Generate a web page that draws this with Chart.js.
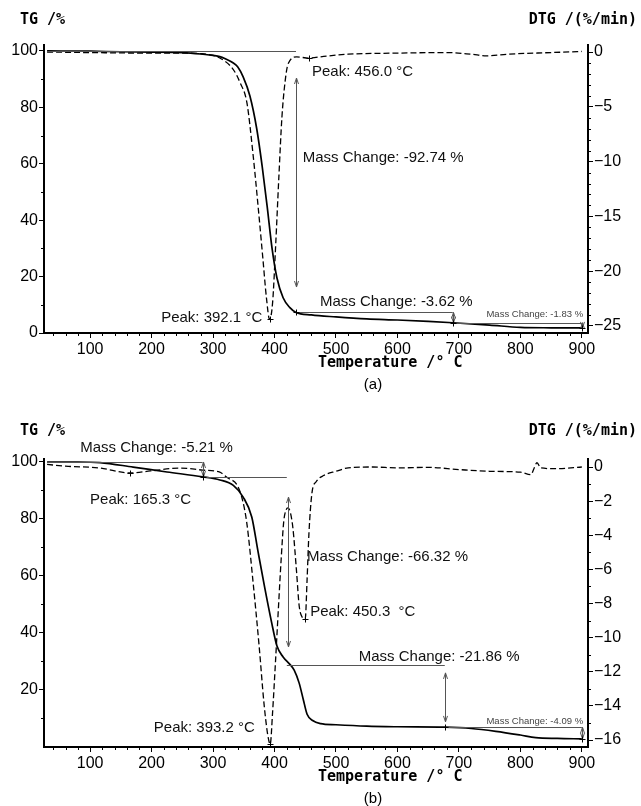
<!DOCTYPE html>
<html>
<head>
<meta charset="utf-8">
<script src="https://cdn.jsdelivr.net/npm/chart.js@4.4.1/dist/chart.umd.min.js"></script>
<style>
  body { margin: 0; background: #fff; }
  canvas { position: absolute; left: 0; }
</style>
</head>
<body>
<canvas id="chartA" width="641" height="400" style="top:0"></canvas>
<canvas id="chartB" width="641" height="406" style="top:400px"></canvas>
<script>
// tick labels
const tempTicks = [100, 200, 300, 400, 500, 600, 700, 800, 900];
const tgTicksA = [0, 20, 40, 60, 80, 100];
const tgTicksB = [20, 40, 60, 80, 100];
const dtgTicksA = [0, -5, -10, -15, -20, -25];
const dtgTicksB = [0, -2, -4, -6, -8, -10, -12, -14, -16];

// (a) TG curve, % vs °C
const tgTempA = [30, 100, 150, 200, 250, 280, 300, 311, 320, 333, 340, 349, 360, 371, 380, 388, 396, 404, 414, 425, 435, 460, 500, 550, 600, 650, 690, 750, 800, 850, 900];
const tgA = [100, 99.9, 99.7, 99.6, 99.4, 98.9, 98.4, 98.0, 97.2, 95.7, 94.4, 90.8, 84.0, 72.5, 59.0, 45.0, 30.0, 19.5, 12.5, 9.0, 7.3, 6.4, 5.7, 5.0, 4.6, 4.1, 3.64, 2.8, 2.0, 1.85, 1.81];

// (a) DTG curve, %/min vs °C
const dtgTempA = [30, 100, 200, 250, 280, 311, 333, 344, 355, 365, 374, 381, 387, 392, 397, 402, 407, 412, 417, 422, 436, 456, 480, 520, 600, 680, 720, 745, 780, 850, 900];
const dtgA = [0, -0.05, -0.1, -0.1, -0.15, -0.55, -1.6, -2.8, -4.6, -9.3, -14.5, -18.8, -22.5, -24.4, -22.8, -17.5, -11.5, -6.0, -2.8, -1.1, -0.45, -0.55, -0.4, -0.2, -0.1, -0.05, -0.2, -0.35, -0.2, -0.05, 0.05];

// (b) TG curve
const tgTempB = [30, 80, 116, 170, 225, 283, 311, 333, 349, 363, 373, 384, 395, 404, 414, 425, 432, 440, 447, 453, 462, 475, 500, 550, 600, 677, 720, 760, 800, 825, 860, 900];
const tgB = [100, 100, 99.8, 98.2, 96.5, 94.8, 93.7, 91.8, 87.7, 80.7, 68.8, 56.0, 44.0, 35.4, 31.6, 29.0, 27.0, 22.5, 16.5, 11.5, 9.3, 8.2, 7.8, 7.3, 7.1, 6.94, 6.5, 5.5, 4.2, 3.3, 3.0, 2.85];

// (b) DTG curve
const dtgTempB = [30, 60, 116, 165, 198, 246, 283, 311, 323, 339, 347, 355, 365, 375, 383, 389, 393, 397, 401, 406, 411, 415, 419, 422, 426, 430, 436, 440, 445, 450, 453, 456, 461, 468, 480, 500, 520, 560, 600, 650, 700, 750, 800, 817, 822, 827, 833, 860, 900];
const dtgB = [0.15, 0.05, -0.06, -0.35, -0.23, -0.06, -0.18, -0.3, -0.62, -1.05, -1.8, -3.3, -6.7, -10.5, -13.9, -15.7, -16.25, -14.3, -11.8, -8.5, -5.3, -3.2, -2.5, -2.4, -2.7, -3.6, -6.2, -8.1, -8.8, -8.9, -6.6, -3.9, -1.5, -0.85, -0.5, -0.25, -0.05, 0, -0.05, -0.02, -0.15, -0.25, -0.3, -0.45, -0.1, 0.25, -0.05, -0.1, 0];

// thermal analysis marks: mass change steps and peaks (°C, % or %/min)
const notesA = [
  { type: "hline", x1: 30, x2: 435, y: 100 },
  { type: "arrow", x: 435, y1: 90.4, y2: 16.3 },
  { type: "hline", x1: 435, x2: 690, y: 7.3 },
  { type: "arrow", x: 690, y1: 7.3, y2: 3.64 },
  { type: "hline", x1: 690, x2: 900, y: 3.64 },
  { type: "arrow", x: 900, y1: 3.64, y2: 1.81 },
  { type: "plus", x: 435, y: 7.3 },
  { type: "plus", x: 690, y: 3.64 },
  { type: "plus", x: 900, y: 1.81 },
  { type: "plus", x: 456, y: -0.55, axis: "y2" },
  { type: "plus", x: 392.1, y: -24.4, axis: "y2" },
  { type: "text", x: 461, y: 92.6, text: "Peak: 456.0 °C" },
  { type: "text", x: 446, y: 62.1, text: "Mass Change: -92.74 %" },
  { type: "text", x: 380, y: 5.3, text: "Peak: 392.1 °C", align: "right" },
  { type: "text", x: 474, y: 11.0, text: "Mass Change: -3.62 %" },
  { type: "text", x: 902, y: 6.7, text: "Mass Change: -1.83 %", align: "right", small: true },
];

const notesB = [
  { type: "hline", x1: 30, x2: 283, y: 100 },
  { type: "arrow", x: 283, y1: 100, y2: 94.8 },
  { type: "hline", x1: 283, x2: 420, y: 94.8 },
  { type: "arrow", x: 422, y1: 87.7, y2: 35.1 },
  { type: "hline", x1: 420, x2: 677, y: 28.8 },
  { type: "arrow", x: 677, y1: 26, y2: 8.8 },
  { type: "hline", x1: 677, x2: 900, y: 6.94 },
  { type: "arrow", x: 900, y1: 6.94, y2: 2.85 },
  { type: "plus", x: 283, y: 94.8 },
  { type: "plus", x: 677, y: 6.94 },
  { type: "plus", x: 900, y: 2.85 },
  { type: "plus", x: 165.3, y: -0.35, axis: "y2" },
  { type: "plus", x: 393.2, y: -16.25, axis: "y2" },
  { type: "plus", x: 450.3, y: -8.9, axis: "y2" },
  { type: "text", x: 84, y: 104.9, text: "Mass Change: -5.21 %" },
  { type: "text", x: 100, y: 86.7, text: "Peak: 165.3 °C" },
  { type: "text", x: 453, y: 66.7, text: "Mass Change: -66.32 %" },
  { type: "text", x: 458, y: 47.4, text: "Peak: 450.3  °C" },
  { type: "text", x: 537, y: 31.6, text: "Mass Change: -21.86 %" },
  { type: "text", x: 902, y: 9.1, text: "Mass Change: -4.09 %", align: "right", small: true },
  { type: "text", x: 368, y: 6.7, text: "Peak: 393.2 °C", align: "right" },
];

const sansFont = '"Liberation Sans", Arial, sans-serif';
const monoFont = 'bold 15px "DejaVu Sans Mono", monospace';

function range(from, to, step) {
  const out = [];
  for (let v = from; v <= to + 1e-9; v += step) out.push(Math.round(v * 100) / 100);
  return out;
}

function drawArrow(ctx, x, ya, yb) {
  ctx.beginPath();
  ctx.moveTo(x, ya);
  ctx.lineTo(x, yb);
  ctx.moveTo(x - 2, ya + 6);
  ctx.lineTo(x, ya);
  ctx.lineTo(x + 2, ya + 6);
  ctx.moveTo(x - 2, yb - 6);
  ctx.lineTo(x, yb);
  ctx.lineTo(x + 2, yb - 6);
  ctx.stroke();
}

const extras = {
  id: "extras",
  afterDraw(chart, args, opts) {
    const { ctx, chartArea: area, scales } = chart;
    ctx.save();

    // minor ticks
    ctx.strokeStyle = "#000";
    ctx.lineWidth = 1;
    ctx.beginPath();
    range(40, 900, 20).forEach((v) => {
      if (v % 100 === 0) return;
      const p = Math.round(scales.x.getPixelForValue(v)) + 0.5;
      ctx.moveTo(p, area.bottom);
      ctx.lineTo(p, area.bottom + 3);
    });
    range(10, 90, 20).forEach((v) => {
      const p = Math.round(scales.y.getPixelForValue(v)) + 0.5;
      ctx.moveTo(area.left - 3, p);
      ctx.lineTo(area.left, p);
    });
    opts.minorY2.forEach((v) => {
      const p = Math.round(scales.y2.getPixelForValue(v)) + 0.5;
      ctx.moveTo(area.right, p);
      ctx.lineTo(area.right + 3, p);
    });
    ctx.stroke();

    // annotations
    opts.notes.forEach((n) => {
      const ys = scales[n.axis || "y"];
      if (n.type === "hline") {
        ctx.strokeStyle = "#555";
        ctx.lineWidth = 1;
        const py = Math.round(ys.getPixelForValue(n.y)) + 0.5;
        ctx.beginPath();
        ctx.moveTo(scales.x.getPixelForValue(n.x1), py);
        ctx.lineTo(scales.x.getPixelForValue(n.x2), py);
        ctx.stroke();
      } else if (n.type === "arrow") {
        ctx.strokeStyle = "#555";
        ctx.lineWidth = 1;
        drawArrow(ctx, Math.round(scales.x.getPixelForValue(n.x)) + 0.5,
          ys.getPixelForValue(n.y1), ys.getPixelForValue(n.y2));
      } else if (n.type === "plus") {
        ctx.strokeStyle = "#000";
        ctx.lineWidth = 1;
        const px = Math.round(scales.x.getPixelForValue(n.x)) + 0.5;
        const py = Math.round(ys.getPixelForValue(n.y)) + 0.5;
        ctx.beginPath();
        ctx.moveTo(px - 3, py);
        ctx.lineTo(px + 3, py);
        ctx.moveTo(px, py - 3);
        ctx.lineTo(px, py + 3);
        ctx.stroke();
      } else if (n.type === "text") {
        ctx.fillStyle = n.small ? "#444" : "#111";
        ctx.font = `${n.small ? 9.5 : 15}px ${sansFont}`;
        ctx.textAlign = n.align || "left";
        ctx.textBaseline = "middle";
        ctx.fillText(n.text, scales.x.getPixelForValue(n.x), ys.getPixelForValue(n.y));
      }
    });

    // axis titles and panel label
    ctx.fillStyle = "#000";
    ctx.font = monoFont;
    ctx.textBaseline = "middle";
    ctx.textAlign = "left";
    ctx.fillText("TG /%", 20, opts.titleY);
    ctx.fillText("Temperature /° C", 318, area.bottom + 30);
    ctx.textAlign = "right";
    ctx.fillText("DTG /(%/min)", 637, opts.titleY);
    ctx.textAlign = "center";
    ctx.font = `15px "Liberation Sans Narrow", ${sansFont}`;
    ctx.fillText(opts.panel, 373, area.bottom + 52);
    ctx.restore();
  },
};

function makeChart(id, p) {
  const toPoints = (xs, ys) => xs.map((t, i) => ({ x: t, y: ys[i] }));
  const axisGrid = {
    display: true,
    drawOnChartArea: false,
    drawTicks: true,
    tickLength: 5,
    color: "#000",
    lineWidth: 1,
  };
  const axisBorder = { display: true, color: "#000", width: 2 };
  const tickFont = { family: sansFont, size: 16 };

  return new Chart(document.getElementById(id), {
    type: "line",
    data: {
      datasets: [
        {
          label: "TG",
          data: toPoints(p.tgTemp, p.tg),
          yAxisID: "y",
          borderColor: "#000",
          borderWidth: 1.7,
          pointRadius: 0,
          cubicInterpolationMode: "monotone",
        },
        {
          label: "DTG",
          data: toPoints(p.dtgTemp, p.dtg),
          yAxisID: "y2",
          borderColor: "#000",
          borderWidth: 1.3,
          borderDash: [6, 3],
          pointRadius: 0,
          cubicInterpolationMode: "monotone",
        },
      ],
    },
    options: {
      responsive: false,
      animation: false,
      layout: { padding: { top: p.top, left: 0, right: 0, bottom: 0 } },
      plugins: {
        legend: { display: false },
        tooltip: { enabled: false },
        extras: {
          notes: p.notes,
          minorY2: p.minorY2,
          titleY: p.titleY,
          panel: p.panel,
        },
      },
      scales: {
        x: {
          type: "linear",
          min: 25,
          max: 910,
          grid: axisGrid,
          border: axisBorder,
          afterBuildTicks: (s) => { s.ticks = tempTicks.map((v) => ({ value: v })); },
          afterFit: (s) => { s.height = p.xHeight; },
          ticks: { font: tickFont, color: "#000", padding: 2, maxRotation: 0, autoSkip: false },
        },
        y: {
          position: "left",
          min: 0,
          max: p.tgMax,
          grid: axisGrid,
          border: axisBorder,
          afterBuildTicks: (s) => { s.ticks = p.tgTicks.map((v) => ({ value: v })); },
          afterFit: (s) => { s.width = 44; },
          ticks: { font: tickFont, color: "#000", padding: 1 },
        },
        y2: {
          position: "right",
          min: p.dtgMin,
          max: p.dtgMax,
          grid: axisGrid,
          border: axisBorder,
          afterBuildTicks: (s) => { s.ticks = p.dtgTicks.map((v) => ({ value: v })); },
          afterFit: (s) => { s.width = 53; },
          ticks: {
            font: tickFont,
            color: "#000",
            padding: 1,
            callback: (v) => String(v).replace("-", "\u2212"),
          },
        },
      },
    },
    plugins: [extras],
  });
}

makeChart("chartA", {
  tgTemp: tgTempA, tg: tgA, dtgTemp: dtgTempA, dtg: dtgA,
  tgTicks: tgTicksA, dtgTicks: dtgTicksA, notes: notesA, panel: "(a)",
  tgMax: 102.1, dtgMin: -25.64, dtgMax: 0.64,
  minorY2: range(-25, 0, 1).filter((v) => v % 5 !== 0),
  top: 45, xHeight: 67, titleY: 20,
});

makeChart("chartB", {
  tgTemp: tgTempB, tg: tgB, dtgTemp: dtgTempB, dtg: dtgB,
  tgTicks: tgTicksB, dtgTicks: dtgTicksB, notes: notesB, panel: "(b)",
  tgMax: 101.05, dtgMin: -16.41, dtgMax: 0.47,
  minorY2: range(-16, 0, 1).filter((v) => v % 2 !== 0),
  top: 59, xHeight: 59, titleY: 31,
});
</script>
</body>
</html>
